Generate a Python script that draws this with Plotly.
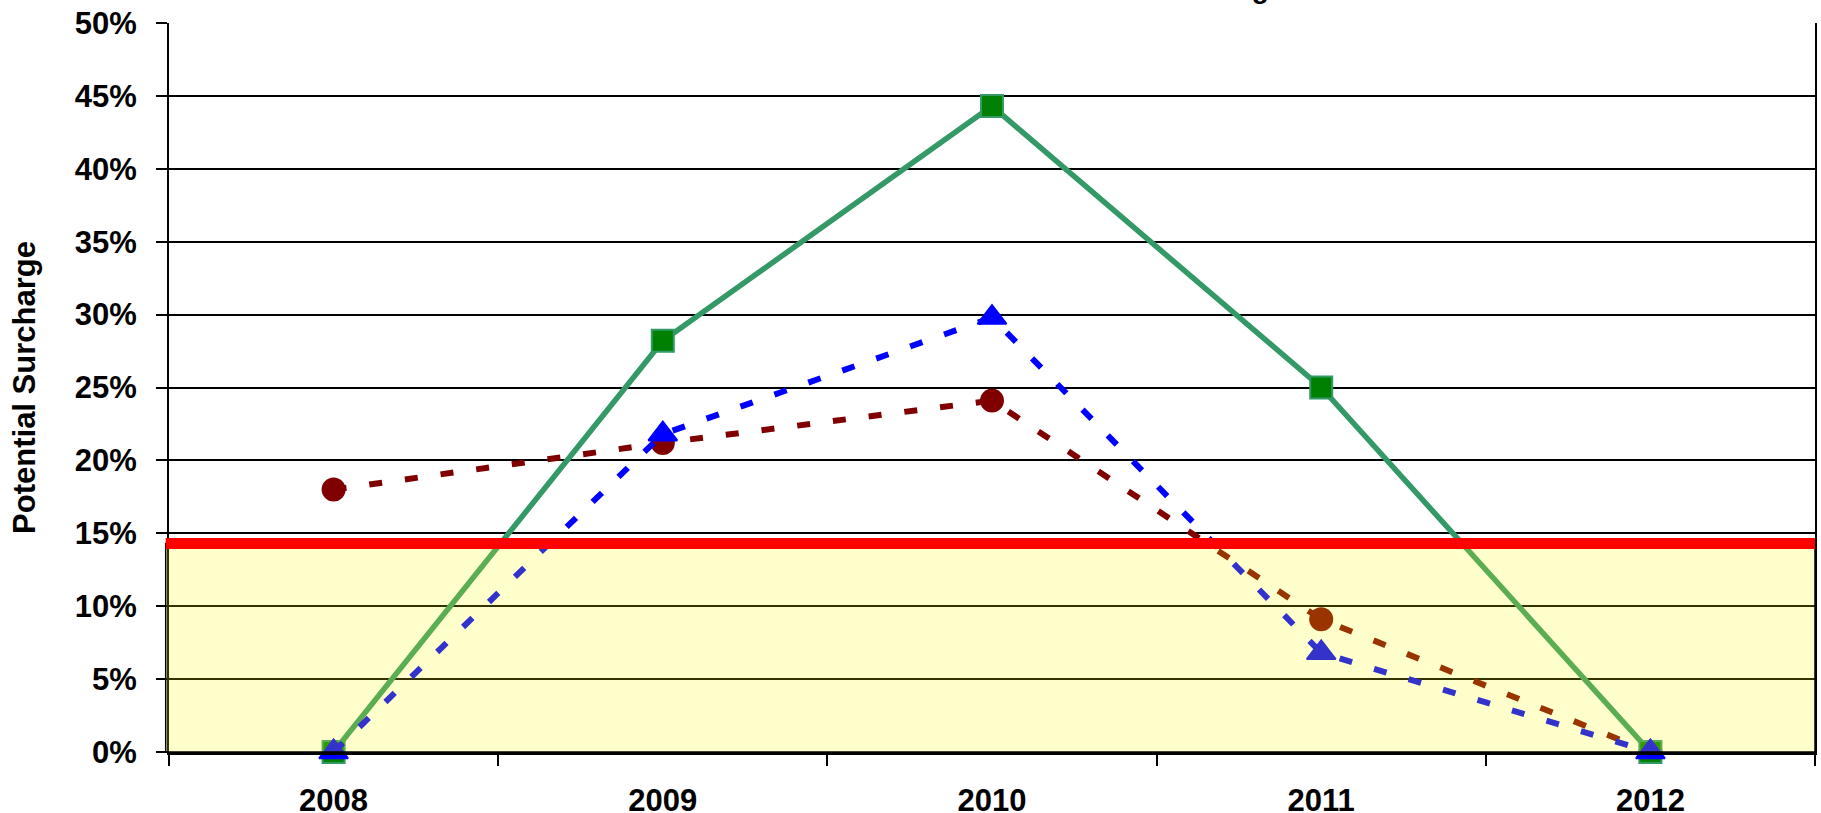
import plotly.graph_objects as go

# Survey years (category axis)
years = ["2008", "2009", "2010", "2011", "2012"]

# Potential surcharge per year, as fractions
surcharge_green = [0.0, 0.282, 0.443, 0.250, 0.0]
surcharge_blue = [0.0, 0.218, 0.298, 0.068, 0.0]
surcharge_maroon = [0.180, 0.212, 0.241, 0.091, 0.0]

# Threshold level marked by the red line / shaded band
threshold = 0.143

y_ticks = [0.0, 0.05, 0.10, 0.15, 0.20, 0.25, 0.30, 0.35, 0.40, 0.45, 0.50]
y_tick_text = ["0%", "5%", "10%", "15%", "20%", "25%", "30%", "35%", "40%", "45%", "50%"]

FONT = "Liberation Sans, Arial, sans-serif"

fig = go.Figure()

fig.add_trace(go.Scatter(
    x=years, y=surcharge_maroon, mode="lines+markers", cliponaxis=False,
    line=dict(color="#800000", width=6, dash="13px,23px"),
    marker=dict(symbol="circle", size=24, color="#800000"),
    showlegend=False, hoverinfo="skip",
))
fig.add_trace(go.Scatter(
    x=years, y=surcharge_green, mode="lines+markers", cliponaxis=False,
    line=dict(color="#339966", width=5.5),
    marker=dict(symbol="square", size=22, color="#008000",
                line=dict(color="#339966", width=2)),
    showlegend=False, hoverinfo="skip",
))
fig.add_trace(go.Scatter(
    x=years, y=surcharge_blue, mode="lines+markers", cliponaxis=False,
    line=dict(color="#0000FF", width=6, dash="13px,23px"),
    marker=dict(symbol="triangle-up", size=25, color="#0000FF",
                line=dict(color="#0000FF", width=2)),
    showlegend=False, hoverinfo="skip",
))

# Translucent yellow band below the threshold, drawn over the data
fig.add_shape(type="rect", xref="paper", yref="y",
              x0=-0.002, x1=1.0, y0=0, y1=threshold,
              fillcolor="rgba(255,255,0,0.2)",
              line=dict(color="black", width=1.5), layer="above")
# Red threshold line
fig.add_shape(type="line", xref="paper", yref="y",
              x0=-0.002, x1=1.0, y0=threshold, y1=threshold,
              line=dict(color="#FF0000", width=11), layer="above")

# Chart title, mostly above the top edge of the page
fig.add_annotation(text="<b>Potential Surcharge</b>", xref="paper", yref="paper",
                   x=0.679, y=1.048, xanchor="right", yanchor="middle",
                   showarrow=False, font=dict(family=FONT, size=28, color="black"))

fig.update_layout(
    width=1821, height=813,
    margin=dict(l=169, r=6, t=23, b=61, autoexpand=False),
    paper_bgcolor="white", plot_bgcolor="white",
    font=dict(family=FONT, color="black"),
    xaxis=dict(
        type="category", range=[-0.5, 4.5], automargin=False,
        showline=True, linecolor="black", linewidth=3,
        ticks="outside", tickson="boundaries", ticklen=11, tickwidth=2, tickcolor="black",
        showgrid=False, zeroline=False,
        tickfont=dict(family=FONT, size=31, color="black", weight="bold"),
        ticklabelstandoff=19,
    ),
    yaxis=dict(
        range=[0, 0.5], tickvals=y_ticks, ticktext=y_tick_text, automargin=False,
        showline=True, linecolor="black", linewidth=2, mirror=True,
        ticks="outside", ticklen=11, tickwidth=2, tickcolor="black",
        showgrid=True, gridcolor="black", gridwidth=2, zeroline=False,
        tickfont=dict(family=FONT, size=31, color="black", weight="bold"),
        ticklabelstandoff=13,
        title=dict(text="<b>Potential Surcharge</b>",
                   font=dict(family=FONT, size=31, color="black"), standoff=30),
    ),
)

fig.write_html("out.html")
